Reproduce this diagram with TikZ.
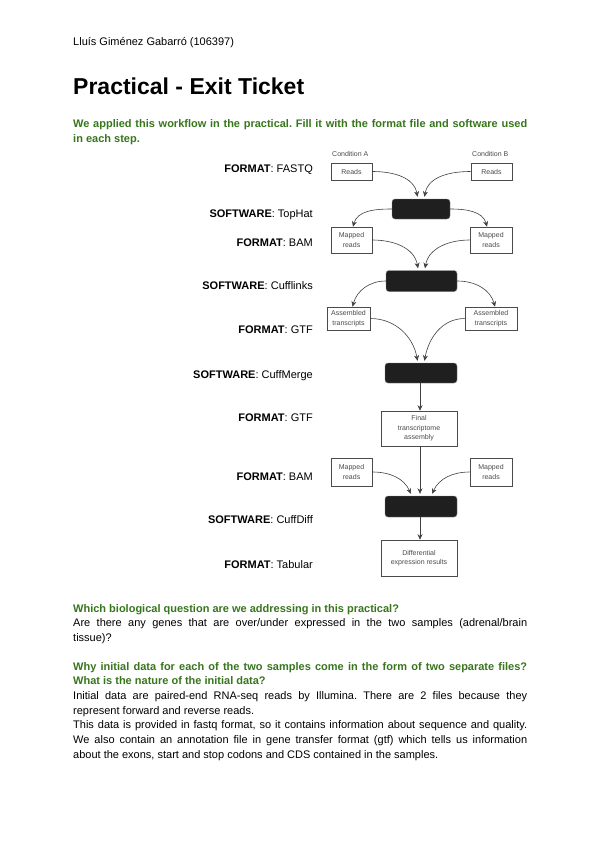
\documentclass[tikz,border=0pt]{standalone}
\usepackage{fontspec}
\setmainfont{Liberation Sans}
\usetikzlibrary{arrows.meta}
\definecolor{qgreen}{RGB}{56,118,29}
\definecolor{figgray}{RGB}{75,75,75}
\hyphenpenalty=10000
\exhyphenpenalty=10000
\tolerance=9999
\frenchspacing
\newcommand{\steptag}[2]{\textbf{#1}: #2}
\begin{document}
\begin{tikzpicture}[x=1pt, y=1pt,
    mybox/.style={draw=figgray, line width=0.6pt, fill=white, inner sep=0pt, align=center,
        font=\fontsize{7}{9.5}\selectfont, text=figgray},
    mytool/.style={draw=gray, fill=black!88, rounded corners=3pt, inner sep=0pt},
    mycap/.style={anchor=base west, inner sep=0pt, font=\fontsize{7}{9.5}\selectfont, text=figgray},
    myflow/.style={->, >={Stealth[length=5.5pt,width=5pt]}, draw=black!75, line width=0.6pt},
    mylabel/.style={anchor=base east, inner sep=0pt, font=\fontsize{11}{13}\selectfont},
    mytext/.style={anchor=base west, inner sep=0pt, text width=454pt, align=justify,
        font=\fontsize{11}{14.7}\selectfont}
]
    % Page
    \useasboundingbox (0,0) rectangle (600,-848);
    \fill[white] (0,0) rectangle (600,-848);

    % Header
    \node[anchor=base west, inner sep=0pt, font=\fontsize{11}{13}\selectfont] (author) at (73,-46)
        {Lluís Giménez Gabarró (106397)};
    \node[anchor=base west, inner sep=0pt, font=\fontsize{23}{27}\selectfont\bfseries] (title) at (73,-95)
        {Practical - Exit Ticket};
    \node[mytext, text=qgreen, font=\fontsize{11}{14.7}\selectfont\bfseries] (intro) at (73,-128)
        {We applied this workflow in the practical. Fill it with the format file and software used\linebreak in each step.};

    % Workflow: inputs
    \node[mybox, minimum width=41pt, minimum height=17pt] (readsA) at (351.5,-171.5) {Reads};
    \node[mybox, minimum width=41pt, minimum height=17pt] (readsB) at (491.5,-171.5) {Reads};
    \node[mycap] (condA) at (332,-157) {Condition A};
    \node[mycap] (condB) at (472,-157) {Condition B};

    % Workflow: tools
    \node[mytool, minimum width=58pt, minimum height=20pt] (tophat) at (421,-209) {};
    \node[mytool, minimum width=71pt, minimum height=21pt] (cufflinks) at (421.5,-281) {};
    \node[mytool, minimum width=72pt, minimum height=20pt] (cuffmerge) at (421,-373) {};
    \node[mytool, minimum width=72pt, minimum height=21pt] (cuffdiff) at (421,-506.5) {};

    % Workflow: intermediate files
    \node[mybox, minimum width=41pt, minimum height=26pt] (mapA) at (351.5,-240) {Mapped\\reads};
    \node[mybox, minimum width=42pt, minimum height=26pt] (mapB) at (491,-240) {Mapped\\reads};
    \node[mybox, minimum width=43pt, minimum height=23pt] (asmA) at (348.5,-318.5) {Assembled\\transcripts};
    \node[mybox, minimum width=52pt, minimum height=23pt] (asmB) at (491,-318.5) {Assembled\\transcripts};
    \node[mybox, minimum width=76pt, minimum height=35pt] (final) at (419,-428.5) {Final\\transcriptome\\assembly};
    \node[mybox, minimum width=41pt, minimum height=28pt] (mapC) at (351.5,-472) {Mapped\\reads};
    \node[mybox, minimum width=42pt, minimum height=28pt] (mapD) at (491,-472) {Mapped\\reads};
    \node[mybox, minimum width=76pt, minimum height=36pt] (diffres) at (419,-558) {Differential\\expression results};

    % Connectors
    \draw[myflow] (readsA.east) to[out=0, in=100] ([xshift=-3.5pt, yshift=2pt]tophat.north);
    \draw[myflow] (readsB.west) to[out=180, in=80] ([xshift=3.5pt, yshift=2pt]tophat.north);
    \draw[myflow] (tophat.west) to[out=180, in=75] ([xshift=1.5pt]mapA.north);
    \draw[myflow] (tophat.east) to[out=0, in=105] ([xshift=-4pt]mapB.north);
    \draw[myflow] (mapA.east) to[out=0, in=100] ([xshift=-3.5pt, yshift=2pt]cufflinks.north);
    \draw[myflow] (mapB.west) to[out=180, in=80] ([xshift=3.5pt, yshift=2pt]cufflinks.north);
    \draw[myflow] (cufflinks.west) to[out=180, in=75] ([xshift=4pt]asmA.north);
    \draw[myflow] (cufflinks.east) to[out=0, in=105] ([xshift=4pt]asmB.north);
    \draw[myflow] (asmA.east) to[out=0, in=100] ([xshift=-3.5pt, yshift=2pt]cuffmerge.north);
    \draw[myflow] (asmB.west) to[out=180, in=80] ([xshift=3.5pt, yshift=2pt]cuffmerge.north);
    \draw[myflow] ([xshift=-1pt]cuffmerge.south) -- ([xshift=1pt]final.north);
    \draw[myflow] ([xshift=1pt]final.south) -- ([xshift=-1pt, yshift=2pt]cuffdiff.north);
    \draw[myflow] (mapC.east) to[out=0, in=115] ([xshift=-10pt, yshift=2pt]cuffdiff.north);
    \draw[myflow] (mapD.west) to[out=180, in=65] ([xshift=11pt, yshift=2pt]cuffdiff.north);
    \draw[myflow] ([xshift=-1pt]cuffdiff.south) -- ([xshift=1pt]diffres.north);

    % Step labels
    \foreach \y/\kind/\what [count=\i] in {168/FORMAT/FASTQ, 213/SOFTWARE/TopHat, 242/FORMAT/BAM,
        285/SOFTWARE/Cufflinks, 329/FORMAT/GTF, 374/SOFTWARE/CuffMerge, 417/FORMAT/GTF,
        476/FORMAT/BAM, 519/SOFTWARE/CuffDiff, 564/FORMAT/Tabular} {
        \node[mylabel] (tag\i) at (313,{-\y-4}) {\steptag{\kind}{\what}};
    }

    % Questions
    \node[mytext] (qbio) at (73,-612)
        {{\color{qgreen}\bfseries Which biological question are we addressing in this practical?}\par
        Are there any genes that are over/under expressed in the two samples (adrenal/brain\linebreak tissue)?};
    \node[mytext] (qdata) at (73,-670)
        {{\color{qgreen}\bfseries Why initial data for each of the two samples come in the form of two separate files?\linebreak What is the nature of the initial data?}\par
        Initial data are paired-end RNA-seq reads by Illumina. There are 2 files because they\linebreak represent forward and reverse reads.\par
        This data is provided in fastq format, so it contains information about sequence and quality.\linebreak We also contain an annotation file in gene transfer format (gtf) which tells us information\linebreak about the exons, start and stop codons and CDS contained in the samples.};
\end{tikzpicture}
\end{document}
